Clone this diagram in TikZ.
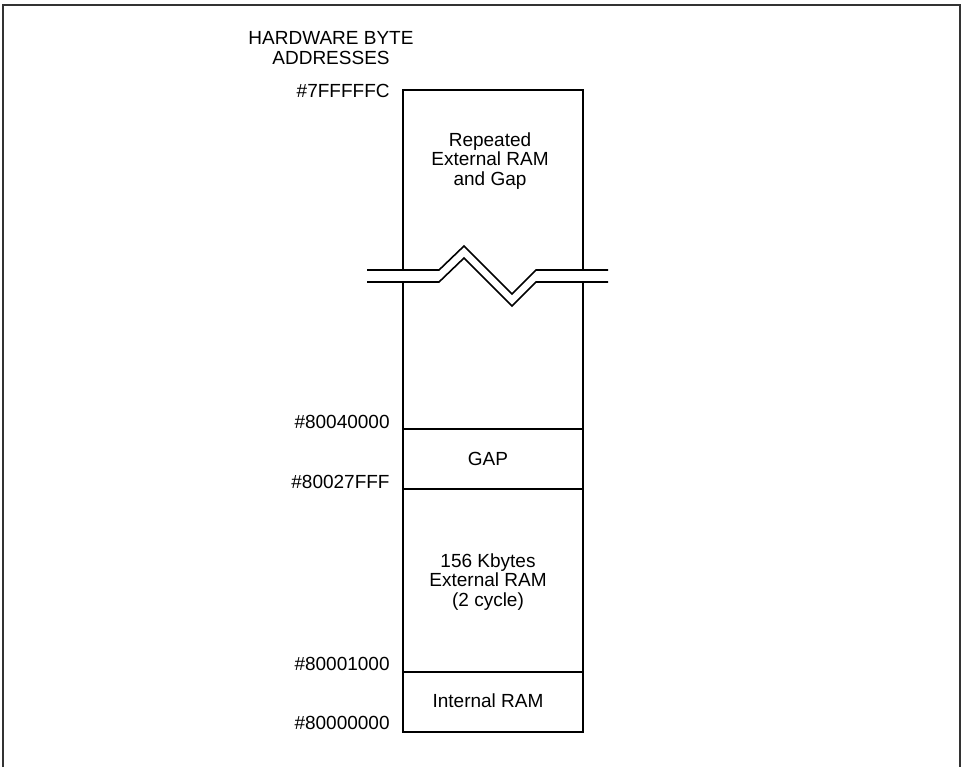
\documentclass[tikz,border=0pt]{standalone}
\usepackage{fontspec}
\setmainfont{Liberation Sans}

\begin{document}
\begin{tikzpicture}[x=0.5pt,y=-0.5pt,
  font=\fontsize{9.5pt}{9.8pt}\selectfont,
  txt/.style={inner sep=0pt,align=center},
  addr/.style={inner sep=0pt,anchor=base east}]
\useasboundingbox (0,0) rectangle (962,767);
\draw[line width=0.9pt,black!80] (3,767)--(3,5)--(960,5)--(960,767);
\node[txt,anchor=north] (hdr) at (331,31) {HARDWARE BYTE\\ADDRESSES};
% memory column
\draw[line width=1pt] (403,90) rectangle (583,732);
\foreach \y in {429,489,672}{\draw[line width=1pt] (403,\y)--(583,\y);}
% break in the column
\fill[white] (367,270)--(439,270)--(464,246)--(512,294)--(536,270)--(608,270)--(608,282)--(536,282)--(512,306)--(464,258)--(439,282)--(367,282)--cycle;
\draw[line width=0.8pt] (367,270)--(439,270)--(464,246)--(512,294)--(536,270)--(608,270);
\draw[line width=0.8pt] (367,282)--(439,282)--(464,258)--(512,306)--(536,282)--(608,282);
\foreach \y/\a in {97/7FFFFFC,428/80040000,488/80027FFF,670/80001000,729/80000000}{\node[addr] (a\a) at (390,\y) {\#\a};}
\node[txt,anchor=north] (rep) at (490,132) {Repeated\\External RAM\\and Gap};
\node[txt,anchor=base] (gap) at (488,465) {GAP};
\node[txt,anchor=north] (ext) at (488,553) {156 Kbytes\\External RAM\\(2 cycle)};
\node[txt,anchor=base] (int) at (488,707) {Internal RAM};
\end{tikzpicture}
\end{document}
